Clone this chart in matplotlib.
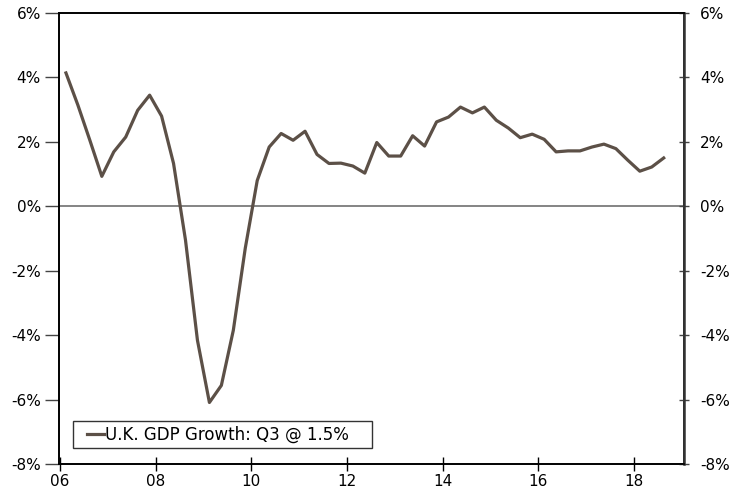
import matplotlib
matplotlib.use("Agg")
import matplotlib.pyplot as plt
from matplotlib.patches import Rectangle
from matplotlib.ticker import FuncFormatter

# quarterly y/y growth, 2006 Q1 .. 2018 Q3
start_year = 2006
gdp_growth = [4.14, 3.14, 2.05, 0.93, 1.69, 2.15, 2.98, 3.45,
              2.80, 1.33, -1.05, -4.16, -6.09, -5.56, -3.85, -1.30,
              0.80, 1.84, 2.26, 2.05, 2.33, 1.61, 1.33, 1.34,
              1.25, 1.03, 1.98, 1.56, 1.56, 2.19, 1.87, 2.62,
              2.77, 3.08, 2.90, 3.08, 2.67, 2.43, 2.13, 2.24,
              2.08, 1.69, 1.72, 1.72, 1.84, 1.93, 1.79, 1.43,
              1.09, 1.22, 1.50]
legend_label = "U.K. GDP Growth: Q3 @ 1.5%"
x_ticks = [2006, 2008, 2010, 2012, 2014, 2016, 2018]
x_labels = ["06", "08", "10", "12", "14", "16", "18"]
y_ticks = [-8, -6, -4, -2, 0, 2, 4, 6]

dates = [start_year + (i + 0.5) / 4 for i in range(len(gdp_growth))]

fig = plt.figure(figsize=(7.47, 4.97), dpi=100)
ax = fig.add_axes([0.079, 0.0664, 0.8367, 0.9074])

ax.axhline(0, color="#707070", lw=1.2, zorder=1)
ax.plot(dates, gdp_growth, color="#5c5047", lw=2.3, label=legend_label, zorder=3)

ax.set_xlim(2005.98, 2019.05)
ax.set_ylim(-8, 6)
ax.set_xticks(x_ticks)
ax.set_xticklabels(x_labels)
ax.set_yticks(y_ticks)
# plain hyphen for negatives, like the original
pct = FuncFormatter(lambda v, p: f"{v:.0f}%".replace("\u2212", "-"))
ax.yaxis.set_major_formatter(pct)

ax.tick_params(axis="x", direction="inout", length=10, width=1, labelsize=11, pad=2)
ax.tick_params(axis="y", which="both", left=True, right=False, direction="out",
               length=10, width=1, color="#444444", labelsize=11, pad=3)

# right side labels with short ticks
ax2 = ax.twinx()
ax2.set_ylim(ax.get_ylim())
ax2.set_yticks(y_ticks)
ax2.yaxis.set_major_formatter(pct)
ax2.tick_params(axis="y", direction="inout", length=7, width=1, color="#444444",
                labelsize=11, pad=8)

for a in (ax, ax2):
    for s in a.spines.values():
        s.set_linewidth(1.2)
ax2.spines["right"].set_color("#333333")
ax2.spines["right"].set_linewidth(1.8)

# legend box is wider than the text, so draw the frame separately
ax.add_patch(Rectangle((0.0224, 0.0355), 0.4784, 0.0598, transform=ax.transAxes,
                       facecolor="white", edgecolor="#333333", lw=1.0, zorder=4))
leg = ax.legend(loc="center left", bbox_to_anchor=(0.0448, 0.0654), fontsize=12,
                frameon=False, handlelength=1.0, handletextpad=0.05,
                borderpad=0, borderaxespad=0)
leg.set_zorder(5)

fig.savefig("out.png", dpi=100)
